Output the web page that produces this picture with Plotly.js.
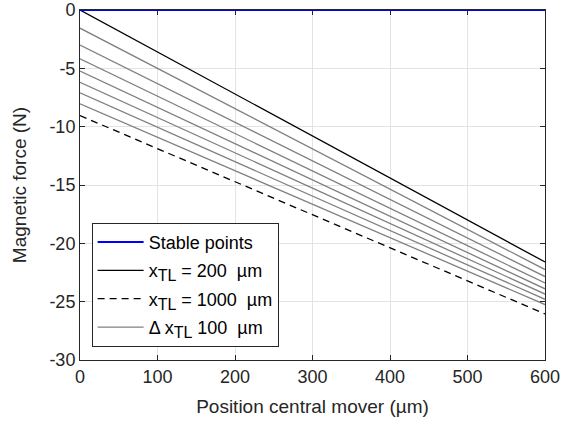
<!DOCTYPE html>
<html>
<head>
<meta charset="utf-8">
<script src="https://cdn.plot.ly/plotly-3.0.1.min.js"></script>
<style>html,body{margin:0;padding:0;background:#fff;}#chart{width:565px;height:428px;}</style>
</head>
<body>
<div id="chart"></div>
<script>
// Position of central mover (µm): line endpoints
const xPos = [0, 600];
// Stable points (along zero force)
const stableY = [0, 0];
// x_TL = 200 µm
const tl200 = [0, -21.6];
// x_TL = 1000 µm
const tl1000 = [-9.05, -26.05];
// Intermediate x_TL = 300..900 µm (step 100 µm): [start, end]
const tlSteps = [
  [-1.56, -22.25],
  [-3.0, -22.85],
  [-4.18, -23.4],
  [-5.24, -23.9],
  [-6.19, -24.35],
  [-7.1, -24.8],
  [-8.04, -25.25]
];
const xTicks = [0, 100, 200, 300, 400, 500, 600];
const yTicks = [-30, -25, -20, -15, -10, -5, 0];

const font = 'Liberation Sans, Arial, Helvetica, sans-serif';
const sub = '<sub><span style="font-size:16px">TL</span></sub>';
const traces = [];
tlSteps.forEach((s, i) => {
  traces.push({
    x: xPos, y: s, mode: 'lines', type: 'scatter',
    line: {color: '#808080', width: 1.3},
    name: '\u0394 x' + sub + ' 100\u00a0 µm', legendgroup: 'g4',
    showlegend: false, legendrank: 4
  });
});
traces.unshift({x: xPos, y: tl1000, mode: 'lines', line: {color: '#000', width: 1.3, dash: '7px,5px'},
  name: 'x' + sub + ' = 1000\u00a0 µm', legendrank: 3, legendgroup: 'g3'});
traces.unshift({x: xPos, y: tl200, mode: 'lines', line: {color: '#000', width: 1.3},
  name: 'x' + sub + ' = 200\u00a0 µm', legendrank: 2, legendgroup: 'g2'});
traces.unshift({x: xPos, y: stableY, mode: 'lines', line: {color: '#0000ff', width: 2},
  name: 'Stable points', legendrank: 1, legendgroup: 'g1', cliponaxis: false});
traces[traces.length - 1].showlegend = true;
const blue = traces.shift();
traces.push(blue);

const layout = {
  width: 565, height: 428,
  margin: {l: 80, r: 20, t: 9.5, b: 68},
  paper_bgcolor: '#fff', plot_bgcolor: '#fff',
  font: {family: font, size: 18, color: '#262626'},
  showlegend: true,
  legend: {
    x: 0.025, y: 0.038, xanchor: 'left', yanchor: 'bottom',
    bgcolor: '#fff', bordercolor: '#262626', borderwidth: 1,
    font: {family: font, size: 18, color: '#000'},
    traceorder: 'grouped', tracegroupgap: 2, itemwidth: 46
  },
  xaxis: {
    range: [0, 600], tickmode: 'array', tickvals: xTicks, ticktext: xTicks.map(String),
    ticks: 'inside', ticklen: 5, tickcolor: '#262626', showline: true, linecolor: '#262626', linewidth: 1,
    mirror: 'ticks', showgrid: true, gridcolor: '#e3e3e3', zeroline: false,
    tickfont: {size: 18, color: '#262626'},
    title: {text: 'Position central mover (µm)', font: {size: 19, color: '#262626'}, standoff: 14}
  },
  yaxis: {
    range: [-30, 0], tickmode: 'array', tickvals: yTicks, ticktext: yTicks.map(String),
    ticks: 'inside', ticklen: 5, tickcolor: '#262626', showline: true, linecolor: '#262626', linewidth: 1,
    mirror: 'ticks', showgrid: true, gridcolor: '#e3e3e3', zeroline: false,
    tickfont: {size: 18, color: '#262626'},
    title: {text: 'Magnetic force (N)', font: {size: 19, color: '#262626'}, standoff: 17}
  }
};
Plotly.newPlot('chart', traces, layout, {displayModeBar: false, staticPlot: true});
</script>
</body>
</html>
